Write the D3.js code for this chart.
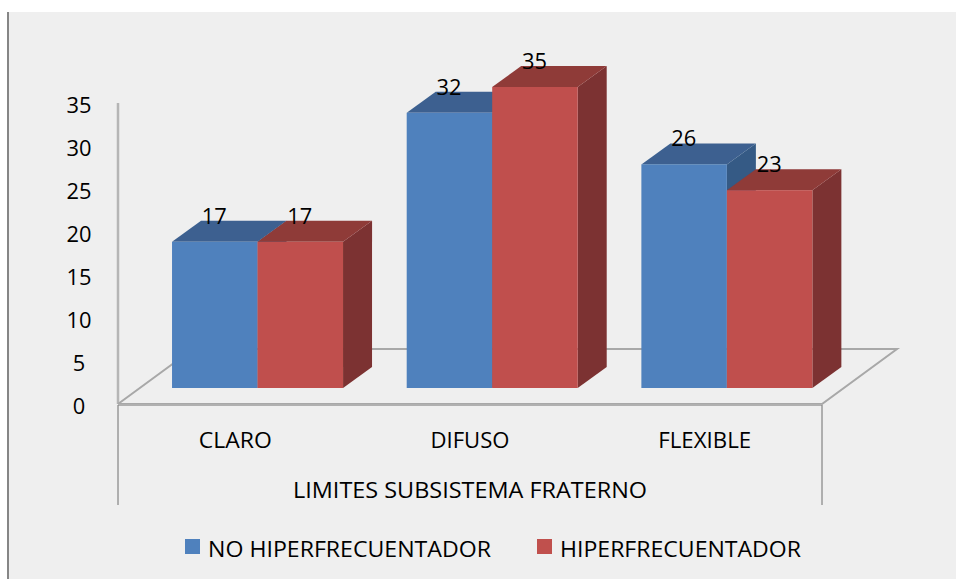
<!DOCTYPE html>
<html><head><meta charset="utf-8">
<script src="https://cdn.jsdelivr.net/npm/d3@7/dist/d3.min.js"></script>
<style>html,body{margin:0;padding:0;background:#fff}svg{display:block}text{font-family:"Open Sans",sans-serif;fill:#000}</style>
</head><body><svg id="c" width="956" height="579"></svg>
<script>
const categories = ["CLARO","DIFUSO","FLEXIBLE"];
const seriesNames = ["NO HIPERFRECUENTADOR","HIPERFRECUENTADOR"];
const noHiper = [17,32,26];
const hiper = [17,35,23];
const yTicks = [0,5,10,15,20,25,30,35];
const axisTitle = "LIMITES SUBSISTEMA FRATERNO";
const seriesValues = [noHiper,hiper];
const front = ["#4f81bd","#c0504d"], top_ = ["#3c6190","#8f3a38"], side = ["#345a85","#7c3130"];

const svg = d3.select("#c");
const defs = svg.append("defs");
defs.append("filter").attr("id","soft").append("feGaussianBlur").attr("stdDeviation",0.6);

svg.append("rect").attr("x",8).attr("y",12).attr("width",948).attr("height",567).attr("fill","#efefef");
svg.append("line").attr("x1",8).attr("x2",8).attr("y1",12).attr("y2",579).attr("stroke","#868686").attr("stroke-width",2);

const x = d3.scaleBand().domain(categories).range([118,822]);
const y = d3.scaleLinear().domain([0,35]).range([404,103]);
const barW = 85.5, barShift = 22.2, floorDX = 75, floorDY = -55, dDX = 29, dDY = -21, barDrop = 16;
const poly = p => p.map(q => q.join(",")).join(" ");

const art = svg.append("g").attr("filter","url(#soft)");
// wall and floor
art.append("line").attr("x1",118).attr("x2",118).attr("y1",y(0)).attr("y2",y(35)).attr("stroke","#b5b5b5").attr("stroke-width",2.5);
art.append("polyline").attr("fill","none").attr("stroke","#a8a8a8").attr("stroke-width",2)
  .attr("points",poly([[118,404],[118+floorDX,404+floorDY],[822+floorDX,404+floorDY],[822,404],[118,404]]));
art.append("line").attr("x1",118).attr("x2",822).attr("y1",405).attr("y2",405).attr("stroke","#b0b0b0").attr("stroke-width",2);
[118,822].forEach(v => svg.append("line").attr("x1",v).attr("x2",v).attr("y1",405).attr("y2",505).attr("stroke","#8c8c8c").attr("stroke-width",1.3));

// bars
categories.forEach((c,i) => {
  const cx = x(c) + x.bandwidth()/2 + barShift;
  seriesValues.forEach((vals,s) => {
    const x0 = cx - barW + s*barW, x1 = x0 + barW;
    const h = y(0) - y(vals[i]);
    const yb = y(0) - barDrop, yt = yb - h;
    const g = art.append("g");
    g.append("polygon").attr("fill",side[s]).attr("points",poly([[x1,yt],[x1+dDX,yt+dDY],[x1+dDX,yb+dDY],[x1,yb]]));
    g.append("polygon").attr("fill",top_[s]).attr("points",poly([[x0,yt],[x0+dDX,yt+dDY],[x1+dDX,yt+dDY],[x1,yt]]));
    g.append("rect").attr("x",x0).attr("y",yt).attr("width",barW).attr("height",h).attr("fill",front[s]);
  });
});
const condensed = (sel, w) => sel.attr("textLength",w).attr("lengthAdjust","spacingAndGlyphs");
// value labels
categories.forEach((c,i) => {
  const cx = x(c) + x.bandwidth()/2 + barShift;
  seriesValues.forEach((vals,s) => {
    const x0 = cx - barW + s*barW;
    condensed(svg.append("text").attr("x",x0 + 42.3).attr("y",y(0)-barDrop-(y(0)-y(vals[i]))-18)
      .attr("text-anchor","middle").attr("font-size",22).text(vals[i]), 25);
  });
});
// y ticks
yTicks.forEach(t => {
  const label = svg.append("text").attr("x",79).attr("y",y(t)+10).attr("text-anchor","middle").attr("font-size",22).text(t);
  condensed(label, String(t).length*12.5);
});
// category labels
const tw = {CLARO:73,DIFUSO:79,FLEXIBLE:93};
categories.forEach(c => condensed(svg.append("text").attr("x",x(c)+x.bandwidth()/2).attr("y",448).attr("text-anchor","middle")
  .attr("font-size",21).text(c), tw[c]));
condensed(svg.append("text").attr("x",470).attr("y",498).attr("text-anchor","middle").attr("font-size",21).text(axisTitle), 354);
// legend
const lx = [185,537], lw = [283,241], tx = [208,560];
seriesNames.forEach((n,s) => {
  svg.append("rect").attr("x",lx[s]).attr("y",539).attr("width",15).attr("height",15).attr("fill",front[s]);
  condensed(svg.append("text").attr("x",tx[s]).attr("y",557).attr("font-size",21).text(n), lw[s]);
});
</script></body></html>
